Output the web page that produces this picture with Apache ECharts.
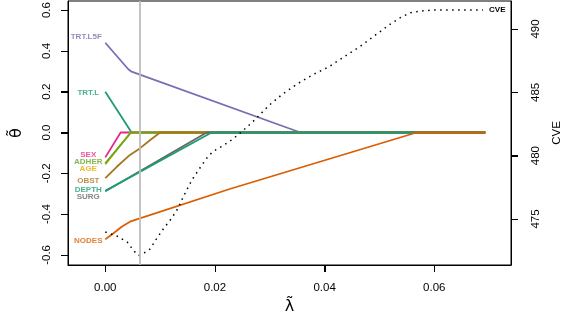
<!DOCTYPE html>
<html><head><meta charset="utf-8">
<script src="https://cdn.jsdelivr.net/npm/echarts@6/dist/echarts.min.js"></script>
<style>html,body{margin:0;padding:0;background:#fff}#c{width:565px;height:322px}</style>
</head><body><div id="c"></div>
<script>
// ---- data ----
const xTicks = [0, 0.02, 0.04, 0.06];
const thetaTicks = [-0.6, -0.4, -0.2, 0, 0.2, 0.4, 0.6];
const cveTicks = [475, 480, 485, 490];
const selectedLambda = 0.0063;

const varNames  = ['TRT.L', 'TRT.L5F', 'SEX', 'AGE', 'ADHER', 'OBST', 'SURG', 'DEPTH', 'NODES'];
const varColors = ['#1B9E77', '#7570B3', '#E7298A', '#E6AB02', '#66A61E', '#A6761D', '#666666', '#1B9E77', '#D95F02'];

const lamTRTL    = [0, 0.0048, 0.0693];
const thTRTL     = [0.20, 0, 0];
const lamTRTL5F  = [0, 0.0042, 0.0048, 0.0356, 0.0693];
const thTRTL5F   = [0.44, 0.310, 0.298, 0, 0];
const lamSEX     = [0, 0.0028, 0.0693];
const thSEX      = [-0.122, 0, 0];
const lamAGE     = [0, 0.0046, 0.0693];
const thAGE      = [-0.156, 0, 0];
const lamADHER   = [0, 0.0047, 0.0693];
const thADHER    = [-0.151, 0, 0];
const lamOBST    = [0, 0.0021, 0.0045, 0.0063, 0.0082, 0.0100, 0.0693];
const thOBST     = [-0.224, -0.168, -0.110, -0.078, -0.037, 0, 0];
const lamSURG    = [0, 0.0185, 0.0693];
const thSURG     = [-0.288, 0, 0];
const lamDEPTH   = [0, 0.0194, 0.0693];
const thDEPTH    = [-0.286, 0, 0];
const lamNODES   = [0, 0.0015, 0.0030, 0.0045, 0.0063, 0.0227, 0.0568, 0.0693];
const thNODES    = [-0.524, -0.494, -0.462, -0.437, -0.421, -0.277, 0, 0];

const lamCVE = [0, 0.0021, 0.0040, 0.0052, 0.0061, 0.0071, 0.0082, 0.0092, 0.0107, 0.0120, 0.0133, 0.0143,
  0.0158, 0.0171, 0.0185, 0.0196, 0.0214, 0.0232, 0.0250, 0.0275, 0.0298, 0.0323, 0.0352, 0.0380,
  0.0408, 0.0438, 0.0466, 0.0493, 0.0520, 0.0539, 0.0557, 0.0580, 0.0602, 0.0689];
const cve = [473.98, 473.66, 473.19, 472.48, 472.12, 472.32, 472.64, 473.35, 474.29, 475.00, 475.87, 476.82,
  478.08, 478.93, 479.80, 480.32, 480.77, 481.29, 481.93, 482.92, 483.95, 484.85, 485.71, 486.42,
  487.02, 487.87, 488.66, 489.53, 490.39, 490.92, 491.29, 491.44, 491.50, 491.50];

// ---- styling / layout ----
const X_MIN = -0.0068, X_MAX = 0.074, TH_MIN = -0.6495, TH_MAX = 0.6446, CVE_MIN = 471.37, CVE_MAX = 492.21;
const lamList = [lamTRTL, lamTRTL5F, lamSEX, lamAGE, lamADHER, lamOBST, lamSURG, lamDEPTH, lamNODES];
const thList  = [thTRTL, thTRTL5F, thSEX, thAGE, thADHER, thOBST, thSURG, thDEPTH, thNODES];
const labelShift = {'TRT.L':[-17,1], 'TRT.L5F':[-19,-6], 'SEX':[-17,-3], 'AGE':[-17,4], 'ADHER':[-17,-2],
  'OBST':[-17,3], 'SURG':[-17,6], 'DEPTH':[-17,-1.5], 'NODES':[-17,1.5]};
const FONT = 'Liberation Sans';
const TICK_LEN = 7;

const series = [];
varNames.forEach((nm, i) => {
  const s = {
    type: 'line', name: nm, showSymbol: false, symbol: 'none',
    data: lamList[i].map((l, j) => [l, thList[i][j]]),
    lineStyle: {color: varColors[i], width: 1.8}, itemStyle: {color: varColors[i]}
  };
  if (i === 0) {
    s.markLine = { silent: true, symbol: 'none', label: {show: false}, precision: 6,
      lineStyle: {color: '#BEBEBE', width: 1.8, type: 'solid'},
      data: [{xAxis: selectedLambda}] };
  }
  series.push(s);
});
series.push({
  type: 'scatter', symbolSize: 0.1, itemStyle: {color: 'transparent'}, silent: true,
  data: varNames.map((nm, i) => ({
    name: nm, value: [lamList[i][0], thList[i][0]],
    label: {show: true, position: 'inside', formatter: nm, color: varColors[i],
      offset: labelShift[nm], fontSize: 8, fontWeight: 'bold', fontFamily: FONT, align: 'center', verticalAlign: 'middle'}
  }))
});
series.push({
  type: 'line', name: 'CVE', yAxisIndex: 1, showSymbol: false, symbol: 'none',
  data: lamCVE.map((l, j) => [l, cve[j]]),
  lineStyle: {color: '#000', width: 1.5, type: [1.5, 4.5]},
  itemStyle: {color: '#000'},
  endLabel: {show: true, formatter: 'CVE', fontSize: 8, fontWeight: 'bold', fontFamily: FONT, color: '#000', distance: 6}
});

const axisLabelBase = {color: '#000', fontSize: 11.5, fontFamily: FONT};
const axisLineStyle = {show: true, onZero: false, lineStyle: {color: '#000', width: 1}};
const tickStyle = {show: true, inside: false, length: TICK_LEN, lineStyle: {color: '#000', width: 1}};
const option = {
  animation: false,
  backgroundColor: '#fff',
  grid: {left: 68, right: 54, top: 1, bottom: 57, show: true, borderColor: '#000', borderWidth: 1,
    backgroundColor: 'transparent', containLabel: false, outerBoundsMode: 'none'},
  xAxis: {
    type: 'value', min: X_MIN, max: X_MAX,
    splitLine: {show: false}, axisLine: axisLineStyle,
    axisTick: Object.assign({}, tickStyle, {customValues: xTicks}),
    axisLabel: Object.assign({}, axisLabelBase, {margin: 17, customValues: xTicks, formatter: v => v.toFixed(2)}),
    name: 'λ̃', nameLocation: 'middle', nameGap: 31,
    nameTextStyle: {fontSize: 16, fontFamily: 'DejaVu Sans', color: '#000'}
  },
  yAxis: [{
    type: 'value', min: TH_MIN, max: TH_MAX, position: 'left',
    splitLine: {show: false}, axisLine: axisLineStyle,
    axisTick: Object.assign({}, tickStyle, {customValues: thetaTicks}),
    axisLabel: Object.assign({}, axisLabelBase, {rotate: 90, margin: 15, customValues: thetaTicks, formatter: v => v.toFixed(1)}),
    name: 'θ̃', nameLocation: 'middle', nameGap: 43, nameRotate: 90,
    nameTextStyle: {fontSize: 16, fontFamily: 'DejaVu Sans', color: '#000'}
  }, {
    type: 'value', min: CVE_MIN, max: CVE_MAX, position: 'right',
    splitLine: {show: false}, axisLine: axisLineStyle,
    axisTick: Object.assign({}, tickStyle, {customValues: cveTicks}),
    axisLabel: Object.assign({}, axisLabelBase, {rotate: 90, margin: 19, customValues: cveTicks, formatter: v => String(Math.round(v))}),
    name: 'CVE', nameLocation: 'middle', nameGap: 40, nameRotate: 90,
    nameTextStyle: {fontSize: 11.5, fontFamily: FONT, color: '#000'}
  }],
  series: series
};
const chart = echarts.init(document.getElementById('c'), null, {renderer: 'canvas'});
chart.setOption(option);

// tick marks drawn as plain DOM-free zrender shapes, placed through the axes' own scales
const px = v => chart.convertToPixel({xAxisIndex: 0, yAxisIndex: 0}, [v, TH_MIN])[0];
const pyL = v => chart.convertToPixel({xAxisIndex: 0, yAxisIndex: 0}, [X_MIN, v])[1];
const pyR = v => chart.convertToPixel({xAxisIndex: 0, yAxisIndex: 1}, [X_MIN, v])[1];
const gx0 = px(X_MIN), gx1 = px(X_MAX), gy0 = pyL(TH_MIN);
const zr = chart.getZr();
const addTick = (x, y, w, h) => zr.add(new echarts.graphic.Rect({
  shape: {x: x, y: y, width: w, height: h}, style: {fill: '#000'}, z: 1000, zlevel: 0, silent: true}));
xTicks.forEach(v => addTick(Math.round(px(v)), Math.round(gy0), 1, TICK_LEN));
thetaTicks.forEach(v => addTick(Math.round(gx0) - TICK_LEN, Math.round(pyL(v)), TICK_LEN, 1));
cveTicks.forEach(v => addTick(Math.round(gx1), Math.round(pyR(v)), TICK_LEN, 1));
</script></body></html>
